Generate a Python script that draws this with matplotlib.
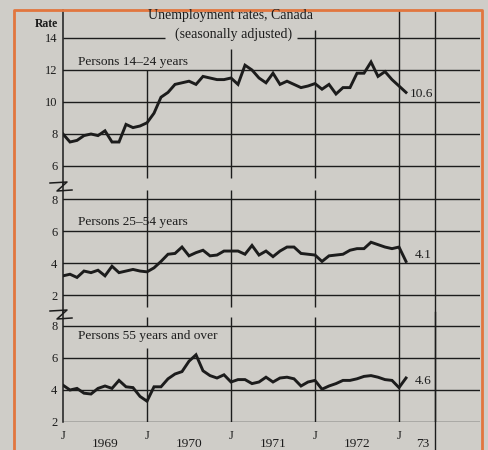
import numpy as np
import matplotlib.pyplot as plt
from matplotlib.lines import Line2D

plt.rcParams['font.family'] = ['Liberation Serif', 'DejaVu Serif']

# monthly, January 1969 to February 1973
months = np.arange(50)
youth = [8.0, 7.5, 7.6, 7.9, 8.0, 7.9, 8.2, 7.5, 7.5, 8.6, 8.4, 8.5,
         8.7, 9.3, 10.3, 10.6, 11.1, 11.2, 11.3, 11.1, 11.6, 11.5, 11.4, 11.4,
         11.5, 11.1, 12.3, 12.0, 11.5, 11.2, 11.8, 11.1, 11.3, 11.1, 10.9, 11.0,
         11.15, 10.8, 11.1, 10.5, 10.9, 10.9, 11.8, 11.8, 12.5, 11.6, 11.9, 11.4,
         11.0, 10.6]
prime = [3.2, 3.3, 3.1, 3.5, 3.4, 3.55, 3.2, 3.8, 3.4, 3.5, 3.6, 3.5,
         3.45, 3.7, 4.1, 4.55, 4.6, 5.0, 4.45, 4.65, 4.8, 4.45, 4.5, 4.75,
         4.75, 4.75, 4.55, 5.1, 4.5, 4.75, 4.4, 4.75, 5.0, 5.0, 4.6, 4.55,
         4.5, 4.1, 4.45, 4.5, 4.55, 4.8, 4.9, 4.9, 5.3, 5.15, 5.0, 4.9,
         5.0, 4.1]
older = [4.3, 4.0, 4.1, 3.8, 3.75, 4.1, 4.25, 4.1, 4.6, 4.2, 4.15, 3.6,
         3.3, 4.2, 4.2, 4.7, 5.0, 5.15, 5.8, 6.2, 5.2, 4.9, 4.75, 4.95,
         4.5, 4.65, 4.65, 4.4, 4.5, 4.8, 4.5, 4.75, 4.8, 4.7, 4.25, 4.5,
         4.6, 4.05, 4.25, 4.4, 4.6, 4.6, 4.7, 4.85, 4.9, 4.8, 4.65, 4.6,
         4.15, 4.75]

labels = ['Persons 14\u201324 years', 'Persons 25\u201354 years', 'Persons 55 years and over']
end_labels = ['10.6', '4.1', '4.6']
year_ticks = [0, 12, 24, 36, 48]
year_names = ['1969', '1970', '1971', '1972', '73']
year_pos = [6, 18, 30, 42, 51.4]

bg = '#cfcdc8'
ink = '#1c1c1c'
orange = '#e2763f'
W, H = 488, 450

fig = plt.figure(figsize=(4.88, 4.5), dpi=100, facecolor=bg)


def fx(px):
    return px / W


def fy(py):
    return 1 - py / H


left, right = fx(63), fx(480)
ax_top = fig.add_axes([left, fy(184), right - left, fy(10) - fy(184)])
ax_mid = fig.add_axes([left, fy(312), right - left, fy(184) - fy(312)])
ax_bot = fig.add_axes([left, fy(422), right - left, fy(312) - fy(422)])

xmax = (480 - 63) / 7
ax_top.set_ylim(4.875, 15.75)
ax_mid.set_ylim(0.94, 8.94)
ax_bot.set_ylim(2, 8.875)

grid_kw = dict(color=ink, lw=1.0)
for ax in (ax_top, ax_mid, ax_bot):
    ax.set_facecolor('none')
    ax.set_xlim(0, xmax)
    for s in ('top', 'right', 'bottom'):
        ax.spines[s].set_visible(False)
    ax.spines['left'].set_color(ink)
    ax.spines['left'].set_linewidth(1.1)
    ax.tick_params(length=0, labelsize=9, labelcolor=ink, pad=4)
    ax.set_xticks([])
    ax.axvline(48, **grid_kw)
    ax.axvline(53.1, **grid_kw)

# top panel grid
ax_top.set_yticks([6, 8, 10, 12, 14])
for v in [6, 8, 10, 12]:
    ax_top.axhline(v, **grid_kw)
ax_top.hlines(14, 0, 14.6, **grid_kw)
ax_top.hlines(14, 33.4, xmax, **grid_kw)
ax_top.vlines(12, 5.25, 12, **grid_kw)
ax_top.vlines(24, 5.25, 13.3, **grid_kw)
ax_top.vlines(36, 5.25, 14.5, **grid_kw)

# middle panel grid
ax_mid.set_yticks([2, 4, 6, 8])
for v in [2, 4, 6, 8]:
    ax_mid.axhline(v, **grid_kw)
ax_mid.vlines([12, 24, 36], 1.25, 8.56, **grid_kw)

# bottom panel grid
ax_bot.set_yticks([2, 4, 6, 8])
for v in [2, 4, 6, 8]:
    ax_bot.axhline(v, **grid_kw)
ax_bot.vlines(12, 2, 6.6, **grid_kw)
ax_bot.vlines(12, 8.0, 8.56, **grid_kw)
ax_bot.vlines([24, 36], 2, 8.56, **grid_kw)
ax_bot.axvline(53.1, ymin=-0.3, ymax=1, clip_on=False, **grid_kw)

# series
line_kw = dict(color=ink, lw=2.1, solid_joinstyle='miter')
ax_top.plot(months, youth, **line_kw)
ax_mid.plot(months, prime, **line_kw)
ax_bot.plot(months, older, **line_kw)

# panel labels
txt_kw = dict(fontsize=9.6, color=ink, va='center', ha='left')
ax_top.text(2.1, 12.5, labels[0], **txt_kw)
ax_mid.text(2.1, 6.56, labels[1], **txt_kw)
ax_bot.text(2.1, 7.4, labels[2], **txt_kw)

ax_top.text(months[-1] + 0.6, youth[-1] - 0.1, end_labels[0], **txt_kw)
ax_mid.text(months[-1] + 1.2, prime[-1] + 0.4, end_labels[1], **txt_kw)
ax_bot.text(months[-1] + 1.2, older[-1] - 0.2, end_labels[2], **txt_kw)

# x axis labels
ax_bot.set_xticks(year_ticks)
ax_bot.set_xticklabels(['J'] * len(year_ticks))
ax_bot.tick_params(axis='x', pad=6, labelsize=9)
for pos, name in zip(year_pos, year_names):
    ax_bot.text(pos, -0.2, name, transform=ax_bot.get_xaxis_transform(),
                ha='center', va='center', fontsize=9.6, color=ink)

# titles
fig.text(fx(58), fy(24), 'Rate', ha='right', va='center', fontsize=8.5,
         color=ink, fontweight='bold')
fig.text(fx(231), fy(16), 'Unemployment rates, Canada', ha='center',
         va='center', fontsize=10, color=ink)
fig.text(fx(234), fy(34), '(seasonally adjusted)', ha='center',
         va='center', fontsize=10, color=ink)

# axis break marks
for yb in (184, 312):
    xs = [fx(50), fx(67), fx(57), fx(72)]
    ys = [fy(yb - 1), fy(yb - 2), fy(yb + 7), fy(yb + 6)]
    fig.add_artist(Line2D(xs, ys, color=ink, lw=1.1))

# orange frame
fig.add_artist(Line2D([fx(14), fx(14), fx(482), fx(482)],
                      [0, fy(10), fy(10), 0], color=orange, lw=2.0))

fig.savefig('out.png', dpi=100, facecolor=bg)
